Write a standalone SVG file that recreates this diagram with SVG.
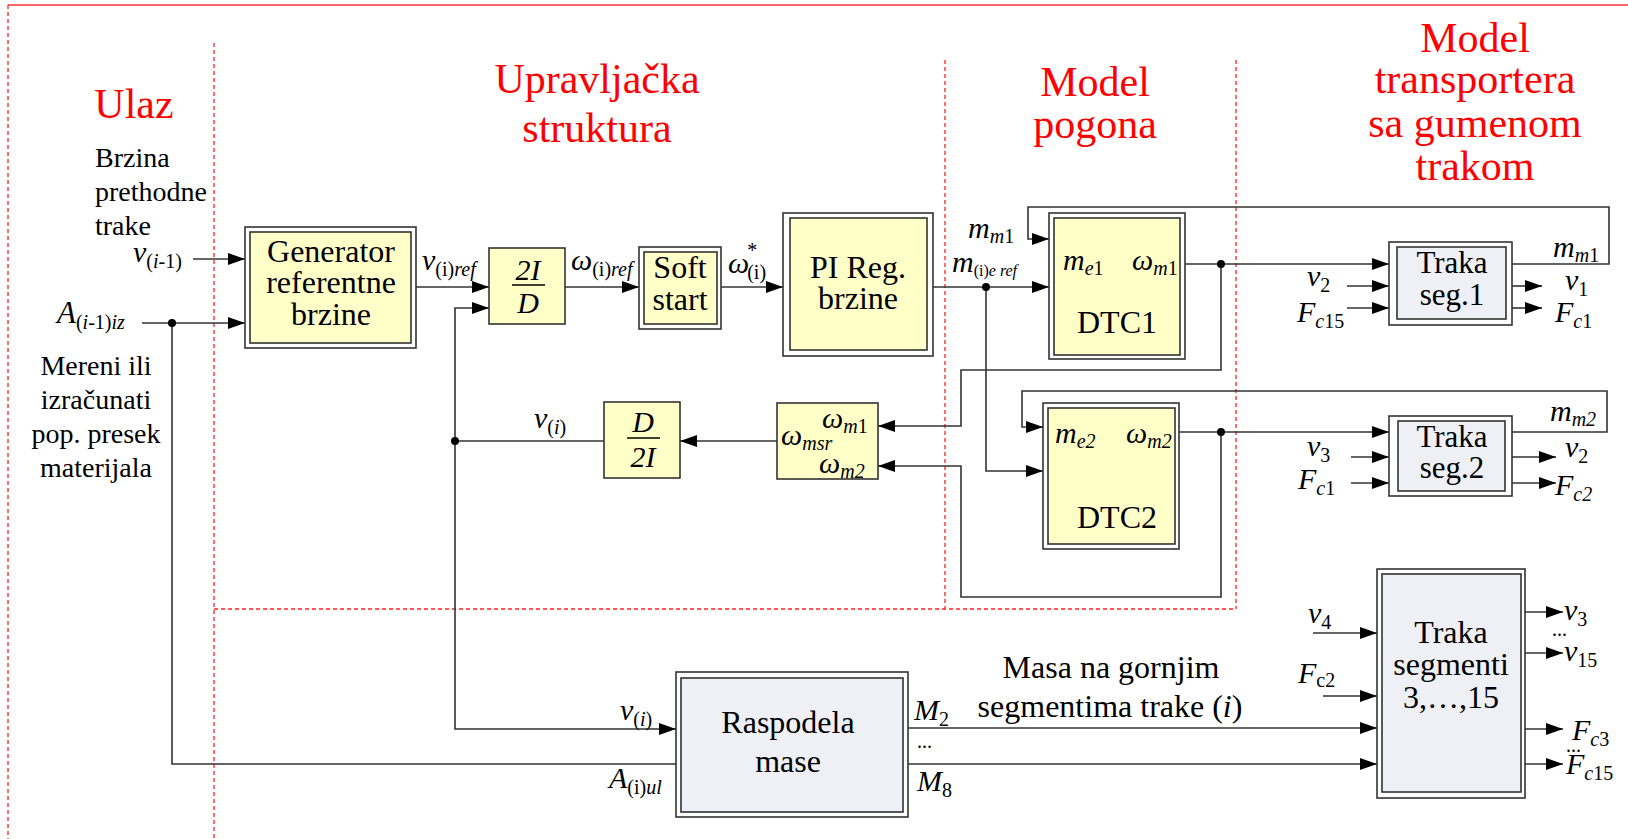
<svg xmlns="http://www.w3.org/2000/svg" width="1628" height="839" viewBox="0 0 1628 839">
<defs>
<style>
text{font-family:"Liberation Serif","Times New Roman",serif;fill:#000}
.t{font-size:32px}
.s{font-size:28px}
.ttl{font-size:42px;fill:#f00;text-anchor:middle}
.c{text-anchor:middle}
.i{font-style:italic;font-size:30px}
.sb{font-size:20px}
.n{font-style:normal}
.ob{fill:#fff;stroke:#333;stroke-width:1.6}
.y{fill:#ffffc8;stroke:#333;stroke-width:1.6}
.g{fill:#eef0f5;stroke:#333;stroke-width:1.6}
.w{fill:none;stroke:#333;stroke-width:1.6}
.a{fill:none;stroke:#333;stroke-width:1.6;marker-end:url(#ar)}
.rd{fill:none;stroke:#f22;stroke-width:1.3;stroke-dasharray:4 3}
</style>
<marker id="ar" markerUnits="userSpaceOnUse" markerWidth="17" markerHeight="12" refX="17" refY="6" orient="auto">
<path d="M0,0 L17,6 L0,12 z" fill="#000"/>
</marker>
</defs>

<g id="frame">
<line x1="8" y1="5" x2="1628" y2="5" stroke="#f66" stroke-width="2"/>
<line x1="8" y1="5" x2="8" y2="839" class="rd"/>
<line x1="214" y1="43" x2="214" y2="839" class="rd"/>
<line x1="945" y1="60" x2="945" y2="609" class="rd"/>
<line x1="1236" y1="60" x2="1236" y2="609" class="rd"/>
<line x1="214" y1="609" x2="1236" y2="609" class="rd"/>
</g>

<g id="titles">
<text class="ttl" x="134" y="118">Ulaz</text>
<text class="ttl" x="597" y="93">Upravljačka</text>
<text class="ttl" x="597" y="142">struktura</text>
<text class="ttl" x="1095" y="96">Model</text>
<text class="ttl" x="1095" y="138">pogona</text>
<text class="ttl" x="1475" y="52">Model</text>
<text class="ttl" x="1475" y="93">transportera</text>
<text class="ttl" x="1475" y="137">sa gumenom</text>
<text class="ttl" x="1475" y="180">trakom</text>
</g>

<g id="inputs">
<text class="s" x="95" y="167">Brzina</text>
<text class="s" x="95" y="201">prethodne</text>
<text class="s" x="95" y="235">trake</text>
<text class="s c" x="96" y="375">Mereni ili</text>
<text class="s c" x="96" y="409">izračunati</text>
<text class="s c" x="96" y="443">pop. presek</text>
<text class="s c" x="96" y="477">materijala</text>
<text class="i" x="133" y="262">v<tspan class="sb n" dy="6">(</tspan><tspan class="sb">i</tspan><tspan class="sb n">-1)</tspan></text>
<text class="i" x="57" y="323" style="font-size:31px">A<tspan class="sb n" dy="6">(</tspan><tspan class="sb">i</tspan><tspan class="sb n">-1)</tspan><tspan class="sb">iz</tspan></text>
</g>

<g id="connectors">
<path class="a" d="M193,259 H245"/>
<path class="a" d="M142,323 H245"/>
<path class="w" d="M172,323 V764 H676"/>
<path class="a" d="M416,287 H489"/>
<path class="a" d="M565,287 H639"/>
<path class="a" d="M721,287 H783"/>
<path class="a" d="M933,287 H1049"/>
<path class="a" d="M986,287 V471 H1043"/>
<path class="a" d="M1512,264 H1609 V207 H1028 V239 H1049"/>
<path class="a" d="M1185,264 H1389"/>
<path class="a" d="M1221,264 V370 H961 V426 H878"/>
<path class="a" d="M1512,432 H1607 V391 H1022 V427 H1043"/>
<path class="a" d="M1179,432 H1389"/>
<path class="a" d="M1221,432 V597 H961 V466 H878"/>
<path class="a" d="M777,441 H680"/>
<path class="w" d="M604,441 H455"/>
<path class="a" d="M455,441 V308 H489"/>
<path class="a" d="M455,441 V729 H676"/>
<path class="a" d="M1347,286 H1389"/>
<path class="a" d="M1347,308 H1389"/>
<path class="a" d="M1512,286 H1542"/>
<path class="a" d="M1512,308 H1542"/>
<path class="a" d="M1351,457 H1389"/>
<path class="a" d="M1351,483 H1389"/>
<path class="a" d="M1512,457 H1556"/>
<path class="a" d="M1512,483 H1556"/>
<path class="a" d="M1313,633 H1377"/>
<path class="a" d="M1323,696 H1377"/>
<path class="a" d="M908,728 H1377"/>
<path class="a" d="M908,764 H1377"/>
<path class="a" d="M1525,612 H1563"/>
<path class="a" d="M1525,653 H1563"/>
<path class="a" d="M1525,729 H1563"/>
<path class="a" d="M1525,764 H1563"/>
<circle cx="172" cy="323" r="4"/>
<circle cx="986" cy="287" r="4"/>
<circle cx="1221" cy="264" r="4"/>
<circle cx="1221" cy="432" r="4"/>
<circle cx="455" cy="441" r="4"/>
</g>

<g id="labels">
<text class="i" x="422" y="270">v<tspan class="sb n" dy="6">(i)</tspan><tspan class="sb">ref</tspan></text>
<text class="i" x="571" y="270">ω<tspan class="sb n" dy="6">(i)</tspan><tspan class="sb">ref</tspan></text>
<text class="i" x="728" y="273">ω<tspan class="sb n" dx="-2" dy="-16">*</tspan><tspan class="sb n" dx="-10" dy="22">(i)</tspan></text>
<text class="i" x="968" y="238">m<tspan class="sb" dy="5">m</tspan><tspan class="sb n">1</tspan></text>
<text class="i" x="952" y="272">m<tspan class="n" style="font-size:16px" dy="4">(i)</tspan><tspan style="font-size:16px">e ref</tspan></text>
<text class="i" x="1553" y="257">m<tspan class="sb" dy="5">m</tspan><tspan class="sb n">1</tspan></text>
<text class="i" x="1550" y="421">m<tspan class="sb" dy="5">m2</tspan></text>
<text class="i" x="1307" y="286">v<tspan class="sb n" dy="6">2</tspan></text>
<text class="i" x="1297" y="322">F<tspan class="sb" dy="6">c</tspan><tspan class="sb n">15</tspan></text>
<text class="i" x="1565" y="290">v<tspan class="sb n" dy="6">1</tspan></text>
<text class="i" x="1555" y="322">F<tspan class="sb" dy="6">c</tspan><tspan class="sb n">1</tspan></text>
<text class="i" x="1307" y="456">v<tspan class="sb n" dy="6">3</tspan></text>
<text class="i" x="1298" y="489">F<tspan class="sb" dy="6">c</tspan><tspan class="sb n">1</tspan></text>
<text class="i" x="1565" y="457">v<tspan class="sb n" dy="6">2</tspan></text>
<text class="i" x="1555" y="495">F<tspan class="sb" dy="6">c2</tspan></text>
<text class="i" x="1308" y="623">v<tspan class="sb n" dy="6">4</tspan></text>
<text class="i" x="1298" y="683">F<tspan class="sb n" dy="4">c2</tspan></text>
<text class="i" x="1564" y="620">v<tspan class="sb n" dy="6">3</tspan></text>
<text class="sb" x="1552" y="636">...</text>
<text class="i" x="1564" y="661">v<tspan class="sb n" dy="6">15</tspan></text>
<text class="i" x="1572" y="740">F<tspan class="sb" dy="6">c</tspan><tspan class="sb n">3</tspan></text>
<text class="sb" x="1566" y="752">...</text>
<text class="i" x="1566" y="774">F<tspan class="sb" dy="6">c</tspan><tspan class="sb n">15</tspan></text>
<text class="i" x="534" y="428">v<tspan class="sb n" dy="6">(</tspan><tspan class="sb">i</tspan><tspan class="sb n">)</tspan></text>
<text class="i" x="620" y="720">v<tspan class="sb n" dy="6">(</tspan><tspan class="sb">i</tspan><tspan class="sb n">)</tspan></text>
<text class="i" x="609" y="788">A<tspan class="sb n" dy="6">(i)</tspan><tspan class="sb">ul</tspan></text>
<text class="i" x="914" y="720">M<tspan class="sb n" dy="6">2</tspan></text>
<text class="sb" x="917" y="748">...</text>
<text class="i" x="917" y="791">M<tspan class="sb n" dy="6">8</tspan></text>
<text class="t c" x="1111" y="678">Masa na gornjim</text>
<text class="t c" x="1110" y="717">segmentima trake (<tspan font-style="italic">i</tspan>)</text>
</g>

<g id="gen">
<rect class="ob" x="245" y="227" width="171" height="121"/>
<rect class="y" x="250" y="232" width="161" height="111"/>
<text class="t c" x="331" y="262">Generator</text>
<text class="t c" x="331" y="293">referentne</text>
<text class="t c" x="331" y="325">brzine</text>
</g>

<g id="f2ID">
<rect class="y" x="489" y="248" width="76" height="76"/>
<text class="i c" x="528" y="280">2I</text>
<line x1="512" y1="285" x2="545" y2="285" stroke="#000" stroke-width="1.5"/>
<text class="i c" x="528" y="313">D</text>
</g>

<g id="soft">
<rect class="ob" x="639" y="247" width="82" height="82"/>
<rect class="y" x="644" y="252" width="73" height="72"/>
<text class="t c" x="680" y="278">Soft</text>
<text class="t c" x="680" y="310">start</text>
</g>

<g id="pi">
<rect class="ob" x="783" y="213" width="150" height="143"/>
<rect class="y" x="790" y="218" width="137" height="132"/>
<text class="t c" x="858" y="278">PI Reg.</text>
<text class="t c" x="858" y="309">brzine</text>
</g>

<g id="dtc1">
<rect class="ob" x="1049" y="213" width="136" height="146"/>
<rect class="y" x="1054" y="218" width="126" height="137"/>
<text class="i" x="1063" y="270">m<tspan class="sb" dy="5">e</tspan><tspan class="sb n">1</tspan></text>
<text class="i" x="1132" y="270">ω<tspan class="sb" dy="5">m</tspan><tspan class="sb n">1</tspan></text>
<text class="t c" x="1117" y="333">DTC1</text>
</g>

<g id="dtc2">
<rect class="ob" x="1043" y="403" width="136" height="146"/>
<rect class="y" x="1048" y="408" width="127" height="136"/>
<text class="i" x="1055" y="443">m<tspan class="sb" dy="5">e2</tspan></text>
<text class="i" x="1126" y="443">ω<tspan class="sb" dy="5">m2</tspan></text>
<text class="t c" x="1117" y="528">DTC2</text>
</g>

<g id="fD2I">
<rect class="y" x="604" y="402" width="76" height="76"/>
<text class="i c" x="643" y="432">D</text>
<line x1="627" y1="438" x2="660" y2="438" stroke="#000" stroke-width="1.5"/>
<text class="i c" x="643" y="467">2I</text>
</g>

<g id="wmsr">
<rect class="y" x="777" y="403" width="101" height="76"/>
<text class="i" x="822" y="428">ω<tspan class="sb" dy="5">m</tspan><tspan class="sb n">1</tspan></text>
<text class="i" x="781" y="445">ω<tspan class="sb" dy="5">msr</tspan></text>
<text class="i" x="819" y="473">ω<tspan class="sb" dy="5">m2</tspan></text>
</g>

<g id="seg1">
<rect class="ob" x="1389" y="242" width="123" height="83"/>
<rect class="g" x="1397" y="247" width="109" height="72"/>
<text class="c" style="font-size:31px" x="1452" y="273">Traka</text>
<text class="c" style="font-size:31px" x="1452" y="305">seg.1</text>
</g>

<g id="seg2">
<rect class="ob" x="1389" y="416" width="123" height="80"/>
<rect class="g" x="1398" y="421" width="107" height="70"/>
<text class="c" style="font-size:31px" x="1452" y="447">Traka</text>
<text class="c" style="font-size:31px" x="1452" y="478">seg.2</text>
</g>

<g id="segs">
<rect class="ob" x="1377" y="569" width="148" height="229"/>
<rect class="g" x="1382" y="574" width="139" height="218"/>
<text class="t c" x="1451" y="643">Traka</text>
<text class="t c" x="1451" y="675">segmenti</text>
<text class="t c" x="1451" y="708">3,…,15</text>
</g>

<g id="rasp">
<rect class="ob" x="676" y="672" width="232" height="145"/>
<rect class="g" x="681" y="678" width="222" height="134"/>
<text class="t c" x="788" y="733">Raspodela</text>
<text class="t c" x="788" y="772">mase</text>
</g>
</svg>
